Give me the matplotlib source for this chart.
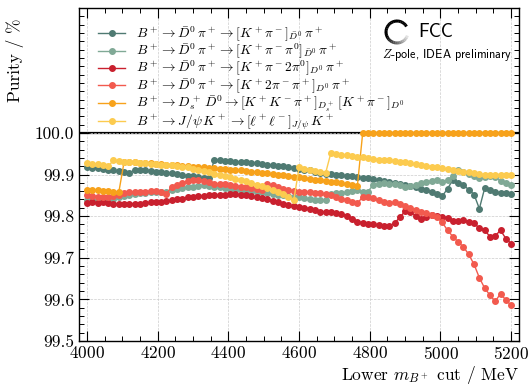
import numpy as np
import matplotlib
matplotlib.use("Agg")
import matplotlib.pyplot as plt
from matplotlib.ticker import MultipleLocator
from matplotlib.patches import Arc

plt.rcParams['mathtext.fontset'] = 'cm'
plt.rcParams['font.family'] = 'cmr10'
plt.rcParams['axes.formatter.use_mathtext'] = True

# lower mass cut values (MeV)
cuts = np.arange(4000, 5201, 15)

kpi = [99.918, 99.916, 99.915, 99.913, 99.912, 99.910, 99.908, 99.906, 99.903, 99.912,
       99.911, 99.910, 99.909, 99.907, 99.906, 99.904, 99.903, 99.901, 99.899, 99.897,
       99.896, 99.894, 99.892, 99.891, 99.935, 99.934, 99.933, 99.932, 99.931, 99.930,
       99.929, 99.928, 99.927, 99.925, 99.924, 99.923, 99.921, 99.920, 99.918, 99.916,
       99.914, 99.912, 99.910, 99.907, 99.904, 99.902, 99.901, 99.899, 99.898, 99.897,
       99.896, 99.894, 99.892, 99.891, 99.889, 99.887, 99.885, 99.883, 99.880, 99.877,
       99.875, 99.872, 99.869, 99.866, 99.862, 99.858, 99.853, 99.848, 99.866, 99.887,
       99.879, 99.874, 99.864, 99.852, 99.818, 99.867, 99.862, 99.858, 99.856, 99.855,
       99.854]

kpipi0 = [99.838, 99.838, 99.839, 99.839, 99.840, 99.842, 99.845, 99.848, 99.851, 99.853,
          99.855, 99.856, 99.857, 99.858, 99.858, 99.858, 99.862, 99.865, 99.868, 99.871,
          99.870, 99.872, 99.874, 99.873, 99.871, 99.869, 99.867, 99.865, 99.863, 99.862,
          99.861, 99.860, 99.858, 99.857, 99.855, 99.853, 99.852, 99.850, 99.848, 99.847,
          99.845, 99.843, 99.841, 99.839, 99.838, 99.838, 99.854, 99.855, 99.856, 99.857,
          99.860, 99.863, 99.858, 99.859, 99.876, 99.878, 99.879, 99.878, 99.877, 99.874,
          99.870, 99.872, 99.875, 99.879, 99.882, 99.885, 99.886, 99.882, 99.887, 99.897,
          99.911, 99.906, 99.902, 99.896, 99.892, 99.894, 99.897, 99.893, 99.885, 99.880,
          99.874]

kpi2pi0 = [99.832, 99.833, 99.832, 99.833, 99.831, 99.830, 99.830, 99.829, 99.830, 99.830,
           99.830, 99.831, 99.833, 99.835, 99.835, 99.836, 99.838, 99.840, 99.842, 99.846,
           99.847, 99.848, 99.849, 99.850, 99.850, 99.851, 99.852, 99.853, 99.853, 99.852,
           99.850, 99.848, 99.846, 99.843, 99.840, 99.837, 99.834, 99.830, 99.827, 99.824,
           99.822, 99.820, 99.818, 99.815, 99.811, 99.810, 99.809, 99.807, 99.805, 99.801,
           99.793, 99.787, 99.784, 99.782, 99.780, 99.778, 99.776, 99.777, 99.783, 99.797,
           99.812, 99.811, 99.800, 99.794, 99.799, 99.803, 99.801, 99.799, 99.796, 99.789,
           99.789, 99.790, 99.786, 99.783, 99.771, 99.766, 99.751, 99.753, 99.766, 99.746,
           99.734]

k2pipi = [99.852, 99.849, 99.847, 99.846, 99.846, 99.848, 99.851, 99.855, 99.858, 99.859,
          99.859, 99.859, 99.860, 99.860, 99.858, 99.854, 99.871, 99.876, 99.880, 99.885,
          99.886, 99.886, 99.884, 99.881, 99.878, 99.878, 99.877, 99.876, 99.873, 99.871,
          99.869, 99.868, 99.866, 99.863, 99.878, 99.874, 99.870, 99.866, 99.863, 99.860,
          99.858, 99.858, 99.857, 99.856, 99.855, 99.853, 99.850, 99.846, 99.842, 99.838,
          99.834, 99.831, 99.846, 99.845, 99.843, 99.838, 99.834, 99.831, 99.833, 99.830,
          99.824, 99.819, 99.814, 99.811, 99.807, 99.802, 99.797, 99.785, 99.766, 99.751,
          99.738, 99.726, 99.708, 99.684, 99.652, 99.627, 99.610, 99.595, 99.614, 99.598,
          99.586]

dsd0 = [99.864, 99.863, 99.862, 99.861, 99.860, 99.859, 99.857, 99.930, 99.929, 99.929,
        99.928, 99.927, 99.927, 99.926, 99.925, 99.924, 99.923, 99.922, 99.921, 99.920,
        99.919, 99.918, 99.917, 99.916, 99.915, 99.914, 99.913, 99.912, 99.911, 99.910,
        99.909, 99.907, 99.906, 99.904, 99.903, 99.901, 99.900, 99.898, 99.897, 99.895,
        99.894, 99.892, 99.890, 99.888, 99.887, 99.885, 99.883, 99.881, 99.879, 99.877,
        99.875, 99.873, 100.0, 100.0, 100.0, 100.0, 100.0, 100.0, 100.0, 100.0,
        100.0, 100.0, 100.0, 100.0, 100.0, 100.0, 100.0, 100.0, 100.0, 100.0,
        100.0, 100.0, 100.0, 100.0, 100.0, 100.0, 100.0, 100.0, 100.0, 100.0,
        100.0]

jpsik = [99.927, 99.926, 99.925, 99.924, 99.920, 99.934, 99.933, 99.931, 99.930, 99.929,
         99.928, 99.927, 99.926, 99.925, 99.924, 99.923, 99.922, 99.921, 99.919, 99.917,
         99.914, 99.911, 99.908, 99.905, 99.902, 99.899, 99.896, 99.893, 99.890, 99.887,
         99.884, 99.880, 99.876, 99.872, 99.868, 99.864, 99.859, 99.853, 99.846, 99.838,
         99.917, 99.914, 99.912, 99.909, 99.906, 99.903, 99.952, 99.950, 99.948, 99.946,
         99.944, 99.943, 99.941, 99.940, 99.938, 99.936, 99.935, 99.934, 99.932, 99.931,
         99.929, 99.927, 99.925, 99.923, 99.921, 99.919, 99.917, 99.915, 99.913, 99.911,
         99.909, 99.907, 99.905, 99.903, 99.901, 99.900, 99.900, 99.900, 99.900, 99.899,
         99.899]

labels = [
    r'$B^+ \to \bar{D}^0\,\pi^+ \to [K^+\pi^-]_{\bar{D}^0}\,\pi^+$',
    r'$B^+ \to \bar{D}^0\,\pi^+ \to [K^+\pi^-\pi^0]_{\bar{D}^0}\,\pi^+$',
    r'$B^+ \to \bar{D}^0\,\pi^+ \to [K^+\pi^-2\pi^0]_{D^0}\,\pi^+$',
    r'$B^+ \to \bar{D}^0\,\pi^+ \to [K^+2\pi^-\pi^+]_{D^0}\,\pi^+$',
    r'$B^+ \to D_s^+\,\bar{D}^0 \to [K^+K^-\pi^+]_{D_s^+}\,[K^+\pi^-]_{D^0}$',
    r'$B^+ \to J/\psi\,K^+ \to [\ell^+\ell^-]_{J/\psi}\,K^+$',
]
colors = ['#4f7a72', '#80a996', '#c9202e', '#f25a4e', '#f7a21b', '#fccb4f']
series = [kpi, kpipi0, kpi2pi0, k2pipi, dsd0, jpsik]

fig = plt.figure(figsize=(5.29, 3.87), dpi=100)
ax = fig.add_axes([0.149, 0.119, 0.832, 0.860])

ax.axhline(100.0, color='black', lw=1.6, zorder=1)
for y, lab, c in zip(series, labels, colors):
    ax.plot(cuts, y, '-o', color=c, lw=1.0, ms=4, label=lab, zorder=2)

ax.set_xlim(3977, 5222)
ax.set_ylim(99.5, 100.3)
ax.set_xticks([4000, 4200, 4400, 4600, 4800, 5000, 5200])
ax.set_yticks([99.5, 99.6, 99.7, 99.8, 99.9, 100.0])
ax.set_yticklabels(['99.5', '99.6', '99.7', '99.8', '99.9', '100.0'])
ax.xaxis.set_minor_locator(MultipleLocator(50))
ax.yaxis.set_minor_locator(MultipleLocator(0.02))
ax.tick_params(which='both', direction='in', top=True, right=True, labelsize=12.5)
ax.tick_params(which='major', length=7, width=0.8)
ax.tick_params(which='minor', length=3.5, width=0.7)
ax.tick_params(axis='x', pad=3)
ax.grid(True, which='major', ls='--', lw=0.5, color='#cccccc', zorder=0)
for s in ax.spines.values():
    s.set_linewidth(1.0)

ax.set_xlabel(r'Lower $m_{B^+}$ cut / MeV', fontsize=12.5, loc='right', labelpad=1)
ax.set_ylabel('Purity / %', fontsize=12.5, loc='top', labelpad=4)
ax.yaxis.set_label_coords(-0.125, 0.97)

ax.legend(loc='upper left', bbox_to_anchor=(0.025, 0.975), frameon=False, fontsize=9.8,
          handlelength=2.0, labelspacing=-0.12, borderaxespad=0.2, handletextpad=0.8)

# FCC logo
W, H = 529, 387
lax = fig.add_axes([383 / W, 1 - 46 / H, 28 / W, 28 / H])
lax.set_xlim(-1.15, 1.15)
lax.set_ylim(-1.15, 1.15)
lax.set_aspect('equal')
lax.axis('off')
angles = np.linspace(30, 340, 32)
for a0, a1 in zip(angles[:-1], angles[1:]):
    f = max(0.0, (a0 - 200) / 140)
    g = 0.95 * f
    lax.add_patch(Arc((0, 0), 1.8, 1.8, theta1=a0, theta2=a1 + 1, lw=2.2,
                      color=(g, g, g)))
fig.text(418 / W, 1 - 32 / H, 'FCC', fontsize=13.5, family='cmss10', va='center', ha='left')
fig.text(512 / W, 1 - 55 / H, r'$\mathit{Z}$-pole, IDEA preliminary', fontsize=8.8,
         family='cmss10', va='center', ha='right')

fig.savefig('out.png', dpi=100)
